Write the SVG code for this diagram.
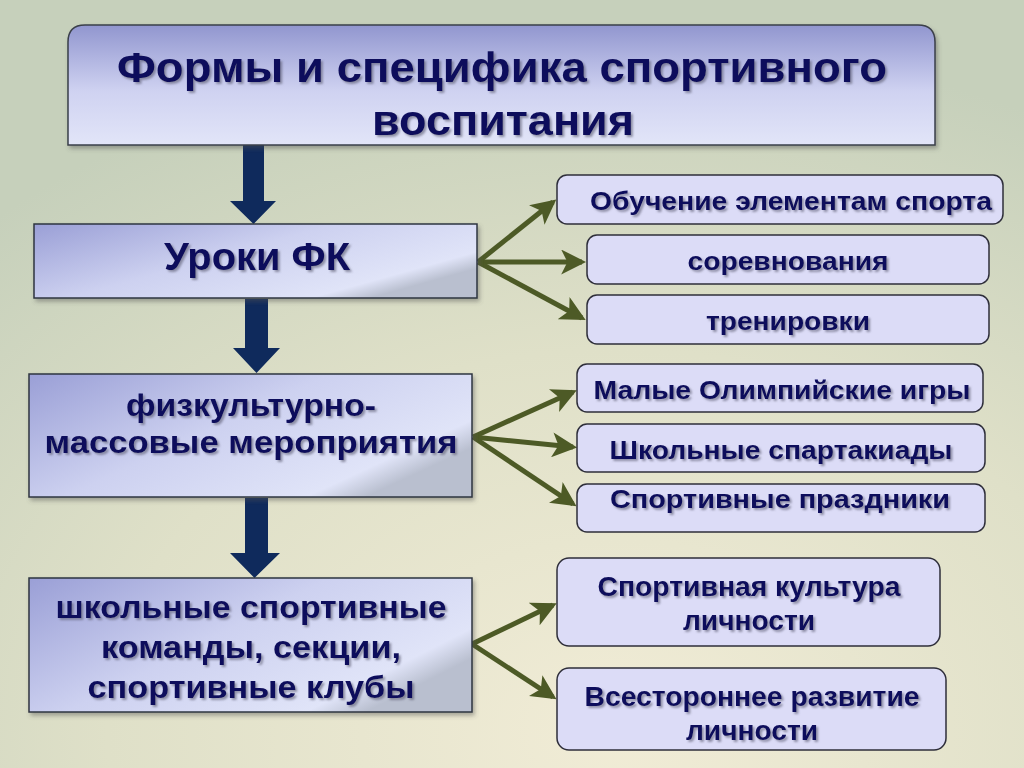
<svg xmlns="http://www.w3.org/2000/svg" width="1024" height="768" viewBox="0 0 1024 768">
<defs>
<radialGradient id="bg" cx="0.6" cy="0.95" r="0.9">
<stop offset="0" stop-color="#f1ecd6"/>
<stop offset="0.55" stop-color="#dfe0c8"/>
<stop offset="1" stop-color="#c6d0bb"/>
</radialGradient>
<linearGradient id="titleG" x1="0" y1="0" x2="0" y2="1">
<stop offset="0" stop-color="#9196cf"/>
<stop offset="0.55" stop-color="#cfd2f1"/>
<stop offset="1" stop-color="#e2e5f8"/>
</linearGradient>
<linearGradient id="boxG" x1="0" y1="0" x2="1" y2="0.6">
<stop offset="0" stop-color="#9a9fd6"/>
<stop offset="0.5" stop-color="#cdd1f0"/>
<stop offset="0.9" stop-color="#e0e4f8"/>
<stop offset="1" stop-color="#b9bfcf"/>
</linearGradient>
<filter id="ts" x="-5%" y="-20%" width="110%" height="150%">
<feDropShadow dx="2" dy="2" stdDeviation="1" flood-color="#5a5a70" flood-opacity="0.6"/>
</filter>
<filter id="bs" x="-5%" y="-10%" width="110%" height="130%">
<feDropShadow dx="2" dy="3" stdDeviation="2" flood-color="#555" flood-opacity="0.45"/>
</filter>
<marker id="ga" viewBox="0 0 12 12" refX="10" refY="6" markerWidth="5" markerHeight="5" orient="auto" markerUnits="strokeWidth">
<path d="M0,0 L12,6 L0,12 L3,6 Z" fill="#4d5a26"/>
</marker>
<style>
.t{font-family:"Liberation Sans",Arial,sans-serif;font-weight:bold;fill:#0c0c5c;text-anchor:middle;filter:url(#ts)}
.big{font-size:42px}
.mid{font-size:32px}
.sm{font-size:25px}
.sm2{font-size:27px}
.main{fill:url(#boxG);stroke:#2e3440;stroke-width:1.5;filter:url(#bs)}
.sub{fill:#dcdcf7;stroke:#2e2e3a;stroke-width:1.5}
.down{fill:#0f2a5c}
.ga{stroke:#4d5a26;stroke-width:5;fill:none;marker-end:url(#ga)}
</style>
</defs>
<rect width="1024" height="768" fill="url(#bg)"/>

<g id="connectors">
<path class="down" d="M243,145 H264 V201 H276 L253.5,224 L230,201 H243 Z"/>
<path class="down" d="M245,299 H268 V348 H280 L256.5,373 L233,348 H245 Z"/>
<path class="down" d="M245,498 H268 V553 H280 L254.5,578 L230,553 H245 Z"/>
<line class="ga" x1="478" y1="262" x2="553" y2="202"/>
<line class="ga" x1="478" y1="262" x2="582" y2="262"/>
<line class="ga" x1="478" y1="262" x2="582" y2="318"/>
<line class="ga" x1="473" y1="437" x2="573" y2="392"/>
<line class="ga" x1="473" y1="437" x2="573" y2="447"/>
<line class="ga" x1="473" y1="437" x2="573" y2="504"/>
<line class="ga" x1="472" y1="644" x2="553" y2="605"/>
<line class="ga" x1="472" y1="644" x2="553" y2="697"/>
</g>

<g id="title">
<path d="M68,145 V42 Q68,25 85,25 H918 Q935,25 935,42 V145 Z" fill="url(#titleG)" stroke="#3a3f4a" stroke-width="1.5" filter="url(#bs)"/>
<text class="t big" x="502" y="82" textLength="770" lengthAdjust="spacingAndGlyphs">Формы и специфика спортивного</text>
<text class="t big" x="503" y="135" textLength="262" lengthAdjust="spacingAndGlyphs">воспитания</text>
</g>

<g id="uroki">
<rect class="main" x="34" y="224" width="443" height="74"/>
<text class="t" x="257" y="270" font-size="38" textLength="186" lengthAdjust="spacingAndGlyphs">Уроки ФК</text>
</g>

<g id="massovye">
<rect class="main" x="29" y="374" width="443" height="123"/>
<text class="t mid" x="251" y="416" textLength="250" lengthAdjust="spacingAndGlyphs">физкультурно-</text>
<text class="t mid" x="251" y="453" textLength="413" lengthAdjust="spacingAndGlyphs">массовые  мероприятия</text>
</g>

<g id="komandy">
<rect class="main" x="29" y="578" width="443" height="134"/>
<text class="t mid" x="251" y="618" textLength="391" lengthAdjust="spacingAndGlyphs">школьные спортивные</text>
<text class="t mid" x="251" y="658" textLength="300" lengthAdjust="spacingAndGlyphs">команды, секции,</text>
<text class="t mid" x="251" y="698" textLength="327" lengthAdjust="spacingAndGlyphs">спортивные клубы</text>
</g>

<g id="obuchenie">
<rect class="sub" x="557" y="175" width="446" height="49" rx="10"/>
<text class="t sm" x="791" y="210" textLength="402" lengthAdjust="spacingAndGlyphs">Обучение элементам спорта</text>
</g>
<g id="sorevnovaniya">
<rect class="sub" x="587" y="235" width="402" height="49" rx="10"/>
<text class="t sm" x="788" y="270" textLength="201" lengthAdjust="spacingAndGlyphs">соревнования</text>
</g>
<g id="trenirovki">
<rect class="sub" x="587" y="295" width="402" height="49" rx="10"/>
<text class="t sm" x="788" y="330" textLength="164" lengthAdjust="spacingAndGlyphs">тренировки</text>
</g>
<g id="olymp">
<rect class="sub" x="577" y="364" width="406" height="48" rx="10"/>
<text class="t sm" x="782" y="399" textLength="377" lengthAdjust="spacingAndGlyphs">Малые Олимпийские игры</text>
</g>
<g id="spartakiady">
<rect class="sub" x="577" y="424" width="408" height="48" rx="10"/>
<text class="t sm" x="781" y="459" textLength="343" lengthAdjust="spacingAndGlyphs">Школьные спартакиады</text>
</g>
<g id="prazdniki">
<rect class="sub" x="577" y="484" width="408" height="48" rx="10"/>
<text class="t sm" x="780" y="508" textLength="340" lengthAdjust="spacingAndGlyphs">Спортивные  праздники</text>
</g>
<g id="kultura">
<rect class="sub" x="557" y="558" width="383" height="88" rx="12"/>
<text class="t sm2" x="749" y="596" textLength="303" lengthAdjust="spacingAndGlyphs">Спортивная культура</text>
<text class="t sm2" x="749" y="630" textLength="132" lengthAdjust="spacingAndGlyphs">личности</text>
</g>
<g id="razvitie">
<rect class="sub" x="557" y="668" width="389" height="82" rx="12"/>
<text class="t sm2" x="752" y="706" textLength="335" lengthAdjust="spacingAndGlyphs">Всестороннее развитие</text>
<text class="t sm2" x="752" y="740" textLength="132" lengthAdjust="spacingAndGlyphs">личности</text>
</g>
</svg>
